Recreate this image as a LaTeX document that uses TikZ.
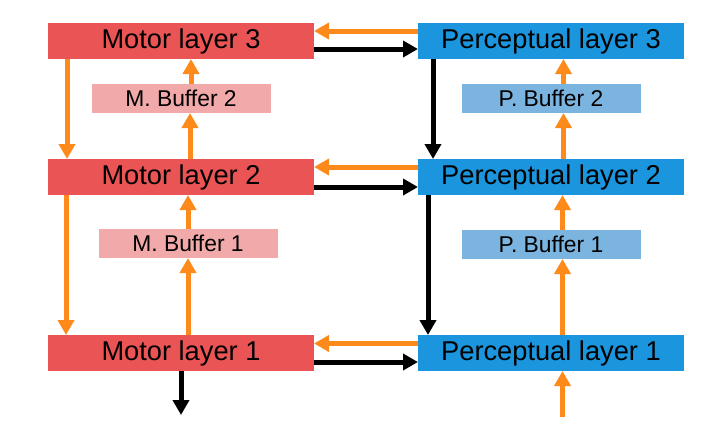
\documentclass[tikz,border=0pt]{standalone}
\usepackage{fontspec}
\setmainfont{Liberation Sans}
\usetikzlibrary{arrows.meta}
\definecolor{motorred}{HTML}{EA5455}
\definecolor{percblue}{HTML}{1B95DD}
\definecolor{mbufpink}{HTML}{F2A9A9}
\definecolor{pbufblue}{HTML}{7CB4E0}
\definecolor{arrorange}{HTML}{FF8A1C}
\tikzstyle{layer}=[inner sep=0pt, outer sep=0pt, text centered,
  minimum width=5.32cm, minimum height=0.72cm,
  font=\fontsize{15.5}{18}\selectfont]
\tikzstyle{motor} = [layer, fill=motorred]
\tikzstyle{perceptual} = [layer, fill=percblue]
\tikzstyle{buffer}=[inner sep=0pt, outer sep=0pt, text centered,
  minimum width=3.58cm, minimum height=0.58cm,
  font=\fontsize{13}{15}\selectfont]
\tikzstyle{mbuffer} = [buffer, fill=mbufpink]
\tikzstyle{pbuffer} = [buffer, fill=pbufblue]
\tikzstyle{flow} = [draw, line width=0.1cm,
  -{Triangle[length=0.3cm,width=0.32cm]}]
\tikzstyle{oline} = [flow, color=arrorange]
\tikzstyle{kline} = [flow, color=black]
\newcommand{\motor}[2]{node (m#1) [motor] {#2}}
\newcommand{\perceptual}[2]{node (p#1) [perceptual] {#2}}
\newcommand{\mbuffer}[2]{node (mb#1) [mbuffer] {#2}}
\newcommand{\pbuffer}[2]{node (pb#1) [pbuffer] {#2}}

\begin{document}
\begin{tikzpicture}
\useasboundingbox (0,0) rectangle (14.52,-8.68);
% Draw diagram elements
\path (3.62,-0.82)            \motor{3}{Motor layer 3};
\path (m3.south) +(0.0,-2.36) \motor{2}{Motor layer 2};
\path (m2.south) +(0.0,-3.16) \motor{1}{Motor layer 1};

\path (m3.east) +(4.74,0.0) \perceptual{3}{Perceptual layer 3};
\path (m2.east) +(4.74,0.0) \perceptual{2}{Perceptual layer 2};
\path (m1.east) +(4.74,0.0) \perceptual{1}{Perceptual layer 1};

\path (m3.south) +(0.0,-0.79)  \mbuffer{2}{M. Buffer 2};
\path (m2.south) +(0.14,-0.97) \mbuffer{1}{M. Buffer 1};
\path (p3.south) +(0.0,-0.79)  \pbuffer{2}{P. Buffer 2};
\path (p2.south) +(0.0,-0.99)  \pbuffer{1}{P. Buffer 1};

\coordinate (mout) at ([yshift=-0.88cm]m1.south);
\coordinate (pin) at ([xshift=0.23cm,yshift=-0.92cm]p1.south);

% Draw arrows between layers
\path [oline] ([yshift=0.2cm]p3.west) -- ([yshift=0.2cm]m3.east);
\path [kline] ([yshift=-0.16cm]m3.east) -- ([yshift=-0.16cm]p3.west);
\path [oline] ([yshift=0.2cm]p2.west) -- ([yshift=0.2cm]m2.east);
\path [kline] ([yshift=-0.2cm]m2.east) -- ([yshift=-0.2cm]p2.west);
\path [oline] ([yshift=0.19cm]p1.west) -- ([yshift=0.19cm]m1.east);
\path [kline] ([yshift=-0.18cm]m1.east) -- ([yshift=-0.18cm]p1.west);

% Motor side
\path [oline] ([xshift=0.38cm]m3.south west) -- ([xshift=0.38cm]m2.north west);
\path [oline] ([xshift=0.36cm]m2.south west) -- ([xshift=0.36cm]m1.north west);
\path [oline] ([xshift=0.18cm]m2.north) -- ([xshift=0.18cm]m2.north |- mb2.south);
\path [oline] ([xshift=0.2cm]mb2.north) -- ([xshift=0.2cm]mb2.north |- m3.south);
\path [oline] (mb1.south |- m1.north) -- (mb1.south);
\path [oline] (mb1.north) -- (mb1.north |- m2.south);
\path [kline] (m1.south) -- (mout);

% Perceptual side
\path [kline] ([xshift=0.3cm]p3.south west) -- ([xshift=0.3cm]p2.north west);
\path [kline] ([xshift=0.2cm]p2.south west) -- ([xshift=0.2cm]p1.north west);
\path [oline] ([xshift=0.25cm]p2.north) -- ([xshift=0.25cm]p2.north |- pb2.south);
\path [oline] ([xshift=0.25cm]pb2.north) -- ([xshift=0.25cm]pb2.north |- p3.south);
\path [oline] ([xshift=0.23cm]p1.north) -- ([xshift=0.23cm]p1.north |- pb1.south);
\path [oline] ([xshift=0.23cm]pb1.north) -- ([xshift=0.23cm]pb1.north |- p2.south);
\path [oline] (pin) -- (pin |- p1.south);
\end{tikzpicture}
\end{document}
